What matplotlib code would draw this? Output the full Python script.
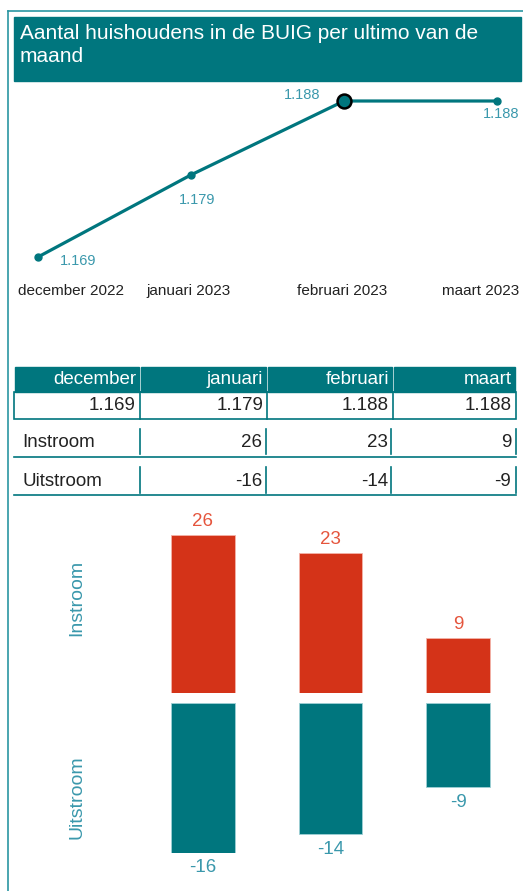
import matplotlib
matplotlib.use("Agg")
import matplotlib.pyplot as plt
from matplotlib.patches import Rectangle

plt.rcParams['font.family'] = ['Liberation Sans', 'DejaVu Sans']

# data
maanden = ["december 2022", "januari 2023", "februari 2023", "maart 2023"]
kort = ["december", "januari", "februari", "maart"]
huishoudens = [1169, 1179, 1188, 1188]
bar_maanden = ["januari", "februari", "maart"]
instroom = [26, 23, 9]
uitstroom = [-16, -14, -9]

title = "Aantal huishoudens in de BUIG per ultimo van de\nmaand"

TEAL = "#00767E"
LABEL = "#3A98AC"
RED = "#D43318"
W, H = 523, 891

fig = plt.figure(figsize=(W / 100, H / 100), dpi=100)
fig.patch.set_facecolor("white")


def box(x, y, w, h):
    # pixel box (from top-left) -> figure fraction
    return [x / W, 1 - (y + h) / H, w / W, h / H]


def fmt(v):
    return f"{v:,}".replace(",", ".")


# full-figure pixel canvas for frame, title and table
bg = fig.add_axes([0, 0, 1, 1])
bg.set_xlim(0, W)
bg.set_ylim(H, 0)
bg.axis("off")

bg.plot([8, 8], [11, H], color="#2A96A2", lw=1.2)
bg.plot([8, W], [11, 11], color="#2A96A2", lw=1.2)
bg.add_patch(Rectangle((14, 17), 507, 64, color=TEAL))
bg.text(20, 24, title, color="white", fontsize=15, va="top", ha="left",
        linespacing=1.3)

# line chart
ax = fig.add_axes(box(38, 101, 459, 156))
ax.set_xlim(0, 3)
ax.set_ylim(1169, 1188)
ax.axis("off")
xs = range(len(huishoudens))
ax.plot(xs, huishoudens, color=TEAL, lw=2.3, marker="o", ms=5, clip_on=False,
        zorder=3)
ax.plot([2], [huishoudens[2]], marker="o", ms=10, mfc=TEAL, mec="black",
        mew=1.8, clip_on=False, zorder=4)

lab_off = [(40, -4), (6, -25), (-42, 6), (4, -13)]
for i, v in enumerate(huishoudens):
    ax.annotate(fmt(v), (i, v), xytext=lab_off[i], textcoords="offset pixels",
                ha="center", va="center", color=LABEL, fontsize=10.5)

tick_off = [(-20, "left"), (-2, "center"), (-2, "center"), (22, "right")]
for i, m in enumerate(maanden):
    dx, ha = tick_off[i]
    ax.annotate(m, (i, 1169), xytext=(dx, -34), textcoords="offset pixels",
                ha=ha, va="center", color="#222222", fontsize=11)

# table
edges = [14, 140, 267, 393, 516]
for i, k in enumerate(kort):
    x0, x1 = edges[i], edges[i + 1]
    bg.add_patch(Rectangle((x0 + 0.5, 367), x1 - x0 - 1.5, 25, color=TEAL))
    bg.text(x1 - 4, 380, k, color="white", fontsize=13.5, ha="right",
            va="center")
    bg.text(x1 - 4, 405.5, fmt(huishoudens[i]), color="#222222",
            fontsize=13.5, ha="right", va="center")
bg.add_patch(Rectangle((14, 392), 502, 27, fill=False, ec=TEAL, lw=1.2))
for x in edges[1:-1]:
    bg.plot([x, x], [392, 419], color=TEAL, lw=1.2)

rows = [("Instroom", instroom, 429, 454, 457),
        ("Uitstroom", uitstroom, 467, 493, 495)]
for naam, vals, y0, y1, yb in rows:
    yc = (y0 + y1) / 2 + 1
    bg.text(22, yc, naam, color="#222222", fontsize=13.5, ha="left",
            va="center")
    for j, v in enumerate(vals):
        x1 = edges[j + 2] - 1
        bg.text(x1 - 4, yc, str(v), color="#222222", fontsize=13.5,
                ha="right", va="center")
    for x in [140, 266, 391, 516]:
        bg.plot([x, x], [y0, y1], color=TEAL, lw=1.2)
    bg.plot([14, 516], [yb, yb], color=TEAL, lw=1.2)

# bar charts
bx = range(len(bar_maanden))
ax_in = fig.add_axes(box(139, 535, 383, 158))
ax_in.bar(bx, instroom, width=0.5, color=RED, edgecolor="#F3B3A8", lw=0.6)
ax_in.set_xlim(-0.5, 2.5)
ax_in.set_ylim(0, max(instroom))
ax_in.axis("off")
for i, v in enumerate(instroom):
    ax_in.annotate(str(v), (i, v), xytext=(0, 14), textcoords="offset pixels",
                   ha="center", va="center", color="#E5553D", fontsize=13.5,
                   annotation_clip=False)

ax_uit = fig.add_axes(box(139, 703, 383, 150))
ax_uit.bar(bx, uitstroom, width=0.5, color=TEAL, edgecolor="#9FD0D5", lw=0.6)
ax_uit.set_xlim(-0.5, 2.5)
ax_uit.set_ylim(min(uitstroom), 0)
ax_uit.axis("off")
for i, v in enumerate(uitstroom):
    ax_uit.annotate(str(v), (i, v), xytext=(0, -15),
                    textcoords="offset pixels", ha="center", va="center",
                    color=LABEL, fontsize=13.5, annotation_clip=False)

bg.text(77, 598, "Instroom", rotation=90, color=LABEL, fontsize=14,
        ha="center", va="center")
bg.text(77, 797, "Uitstroom", rotation=90, color=LABEL, fontsize=14,
        ha="center", va="center")

fig.savefig("out.png", dpi=100)
